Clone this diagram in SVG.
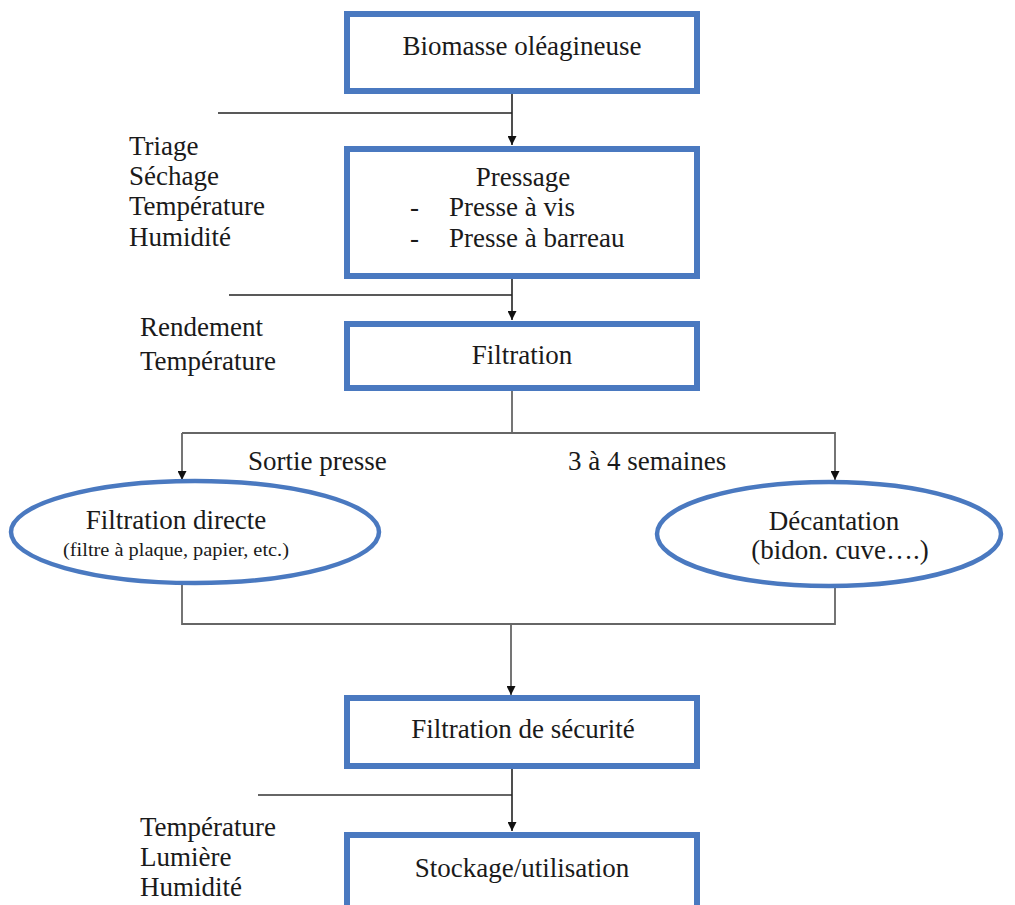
<svg xmlns="http://www.w3.org/2000/svg" width="1015" height="905" viewBox="0 0 1015 905">
<defs>
<marker id="ah" viewBox="0 0 10 10" refX="10" refY="5" markerWidth="10" markerHeight="9" markerUnits="userSpaceOnUse" orient="auto">
<path d="M0,0 L10,5 L0,10 z" fill="#111"/>
</marker>
</defs>
<style>
.box{fill:#fff;stroke:#4a79c0;stroke-width:6}
.ell{fill:#fff;stroke:#4a79c0;stroke-width:4.5}
.ln{fill:none;stroke:#222;stroke-width:1.6}
.lg{fill:none;stroke:#666;stroke-width:1.8}
.t{font-family:"Liberation Serif","Times New Roman",serif;font-size:27px;fill:#1a1a1a}
.s{font-family:"Liberation Serif","Times New Roman",serif;font-size:18px;fill:#1a1a1a}
.c{text-anchor:middle}
</style>
<rect width="1015" height="905" fill="#fff"/>
<g id="connectors">
<line class="ln" x1="218" y1="113" x2="512" y2="113"/>
<line class="ln" x1="512" y1="92" x2="512" y2="145" marker-end="url(#ah)"/>
<line class="ln" x1="229" y1="295" x2="512" y2="295"/>
<line class="ln" x1="512" y1="277" x2="512" y2="320" marker-end="url(#ah)"/>
<line class="lg" x1="512" y1="389" x2="512" y2="433"/>
<polyline class="lg" points="182,433 835,433 835,480" marker-end="url(#ah)"/>
<line class="lg" x1="182" y1="433" x2="182" y2="480" marker-end="url(#ah)"/>
<polyline class="lg" points="182,584 182,624 835,624 835,586"/>
<line class="lg" x1="511" y1="624" x2="511" y2="695" marker-end="url(#ah)"/>
<line class="lg" x1="258" y1="795" x2="512" y2="795"/>
<line class="ln" x1="512" y1="767" x2="512" y2="831" marker-end="url(#ah)"/>
</g>
<g id="biomasse">
<rect class="box" x="347" y="14" width="350" height="77"/>
<text class="t c" x="522" y="55">Biomasse oléagineuse</text>
</g>
<g id="pressage">
<rect class="box" x="347" y="149" width="350" height="127"/>
<text class="t c" x="523" y="186">Pressage</text>
<text class="t" x="410" y="216">-</text>
<text class="t" x="449" y="216">Presse à vis</text>
<text class="t" x="410" y="247">-</text>
<text class="t" x="449" y="247">Presse à barreau</text>
</g>
<g id="labels-pressage">
<text class="t" x="129" y="155">Triage</text>
<text class="t" x="129" y="185">Séchage</text>
<text class="t" x="129" y="215">Température</text>
<text class="t" x="129" y="246">Humidité</text>
</g>
<g id="filtration">
<rect class="box" x="347" y="324" width="350" height="64"/>
<text class="t c" x="522" y="364">Filtration</text>
</g>
<g id="labels-filtration">
<text class="t" x="140" y="336">Rendement</text>
<text class="t" x="140" y="370">Température</text>
</g>
<g id="branch-labels">
<text class="t" x="248" y="470">Sortie presse</text>
<text class="t" x="568" y="470">3 à 4 semaines</text>
</g>
<g id="filtration-directe">
<ellipse class="ell" cx="195" cy="532" rx="184" ry="51"/>
<text class="t c" x="176" y="529">Filtration directe</text>
<text class="s c" x="176" y="556" textLength="226" lengthAdjust="spacingAndGlyphs">(filtre à plaque, papier, etc.)</text>
</g>
<g id="decantation">
<ellipse class="ell" cx="829" cy="534" rx="172" ry="52"/>
<text class="t c" x="834" y="530">Décantation</text>
<text class="t c" x="840" y="559">(bidon. cuve….)</text>
</g>
<g id="filtration-securite">
<rect class="box" x="347" y="698" width="350" height="68"/>
<text class="t c" x="523" y="738">Filtration de sécurité</text>
</g>
<g id="labels-stockage">
<text class="t" x="140" y="836">Température</text>
<text class="t" x="140" y="866">Lumière</text>
<text class="t" x="140" y="896">Humidité</text>
</g>
<g id="stockage">
<rect class="box" x="347" y="835" width="350" height="80"/>
<text class="t c" x="522" y="877">Stockage/utilisation</text>
</g>
</svg>
